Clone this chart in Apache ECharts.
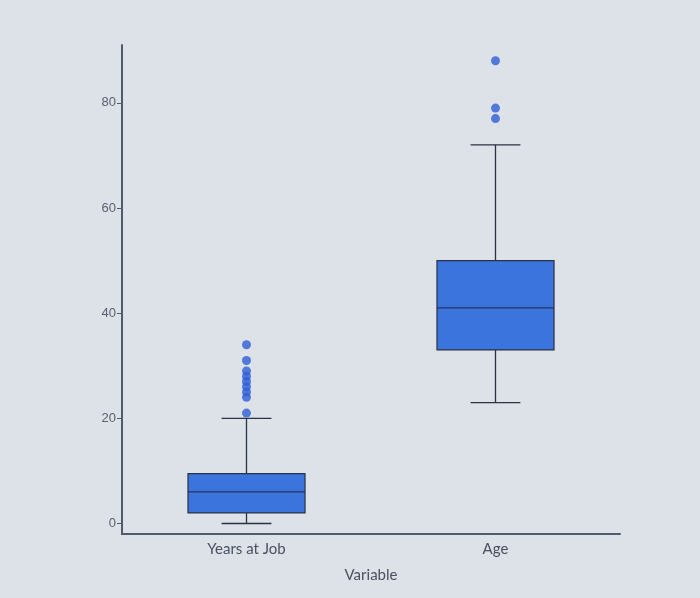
<!DOCTYPE html>
<html>
<head>
<meta charset="utf-8">
<script src="https://cdn.jsdelivr.net/npm/echarts@6/dist/echarts.min.js"></script>
<style>
  html, body { margin: 0; padding: 0; background: #dce2e7; }
  #chart { width: 700px; height: 598px; }
</style>
</head>
<body>
<div id="chart"></div>
<script>
// Categories on the x axis
const categories = ['Years at Job', 'Age'];

// Five-number summaries: [lower whisker, Q1, median, Q3, upper whisker]
const yearsAtJobBox = [0, 2, 6, 9.5, 20];
const ageBox = [23, 33, 41, 50, 72];

// Points beyond the whiskers
const yearsAtJobOutliers = [21, 24, 25, 26, 27, 28, 29, 31, 34];
const ageOutliers = [77, 79, 88];

// Y axis tick labels
const yTicks = [0, 20, 40, 60, 80];

const boxRows = [yearsAtJobBox, ageBox].map((b, i) => [i].concat(b));
const outlierPoints = []
  .concat(yearsAtJobOutliers.map(v => [0, v]))
  .concat(ageOutliers.map(v => [1, v]));

const axisColor = '#4f5a6b';
const boxBlue = '#3b74dc';
const edgeColor = '#2b3242';

// Box with narrow whisker caps, placed through the axes' own scales
function renderBox(params, api) {
  const cat = api.value(0);
  const band = api.size([1, 0])[0];
  const boxW = band * 0.47;
  const capW = band * 0.2;
  const pLow = api.coord([cat, api.value(1)]);
  const pQ1 = api.coord([cat, api.value(2)]);
  const pMed = api.coord([cat, api.value(3)]);
  const pQ3 = api.coord([cat, api.value(4)]);
  const pHigh = api.coord([cat, api.value(5)]);
  const x = pQ1[0];
  const line = { stroke: edgeColor, lineWidth: 1.3 };
  return {
    type: 'group',
    children: [
      { type: 'line', shape: { x1: x, y1: pLow[1], x2: x, y2: pQ1[1] }, style: line },
      { type: 'line', shape: { x1: x, y1: pQ3[1], x2: x, y2: pHigh[1] }, style: line },
      { type: 'line', shape: { x1: x - capW / 2, y1: pLow[1], x2: x + capW / 2, y2: pLow[1] }, style: line },
      { type: 'line', shape: { x1: x - capW / 2, y1: pHigh[1], x2: x + capW / 2, y2: pHigh[1] }, style: line },
      {
        type: 'rect',
        shape: { x: x - boxW / 2, y: pQ3[1], width: boxW, height: pQ1[1] - pQ3[1] },
        style: { fill: boxBlue, stroke: edgeColor, lineWidth: 1.2 }
      },
      { type: 'line', shape: { x1: x - boxW / 2, y1: pMed[1], x2: x + boxW / 2, y2: pMed[1] }, style: { stroke: '#27335a', lineWidth: 1.2 } }
    ]
  };
}

const chart = echarts.init(document.getElementById('chart'));
chart.setOption({
  backgroundColor: '#dce2e7',
  animation: false,
  grid: { left: 122, right: 80, top: 45, bottom: 64 },
  xAxis: {
    type: 'category',
    data: categories,
    name: 'Variable',
    nameLocation: 'middle',
    nameGap: 34,
    nameTextStyle: { fontFamily: 'Lato', fontSize: 15, color: '#4a5060' },
    axisLine: { onZero: false, lineStyle: { color: axisColor, width: 2 } },
    axisTick: { alignWithLabel: true, length: 3, lineStyle: { color: axisColor } },
    axisLabel: { fontFamily: 'Lato', fontSize: 15, color: '#4a5060', margin: 8 },
    splitLine: { show: false }
  },
  yAxis: {
    type: 'value',
    min: -2,
    max: 91,
    axisLine: { show: true, onZero: false, lineStyle: { color: axisColor, width: 2 } },
    axisTick: { show: true, length: 5, customValues: yTicks, lineStyle: { color: axisColor } },
    axisLabel: { customValues: yTicks, fontFamily: 'Liberation Sans', fontSize: 13, color: '#5a6070', margin: 6 },
    splitLine: { show: false }
  },
  series: [
    {
      type: 'custom',
      renderItem: renderBox,
      encode: { x: 0, y: [1, 2, 3, 4, 5] },
      data: boxRows
    },
    {
      type: 'scatter',
      data: outlierPoints,
      symbolSize: 9,
      itemStyle: { color: '#2f5fd6' }
    }
  ]
});
</script>
</body>
</html>
